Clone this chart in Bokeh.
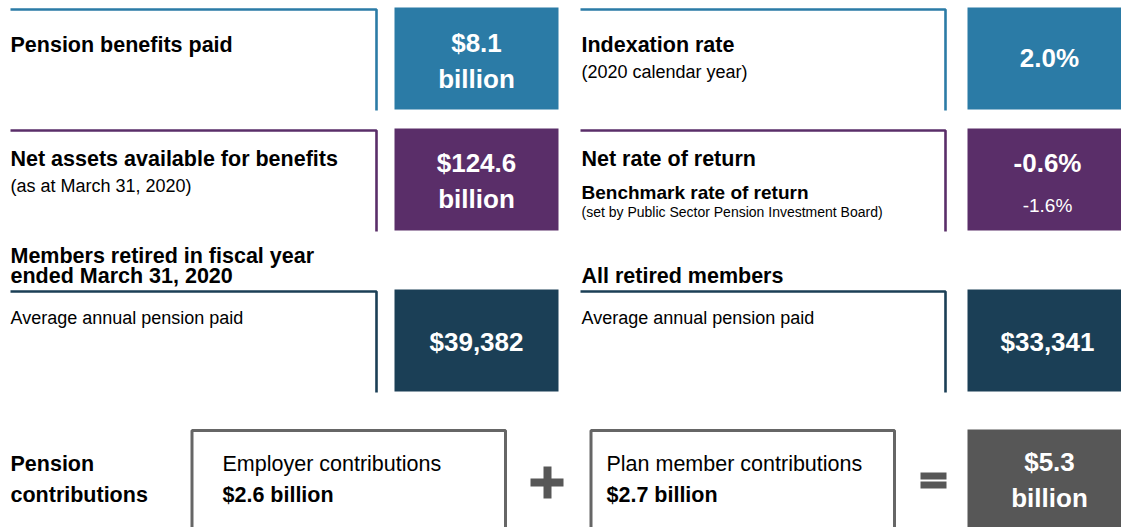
from bokeh.plotting import figure
from bokeh.models import Range1d
from bokeh.core.properties import value
from bokeh.embed import file_html
from bokeh.resources import INLINE

# ---------------- data ----------------
benefits_paid_bn = 8.1
indexation_rate_pct = 2.0
net_assets_bn = 124.6
net_return_pct = -0.6
benchmark_return_pct = -1.6
avg_pension_new_retirees = 39382
avg_pension_all_retirees = 33341
employer_contrib_bn = 2.6
member_contrib_bn = 2.7
total_contrib_bn = 5.3

panel_titles = ["Pension benefits paid", "Indexation rate",
                "Net assets available for benefits", "Net rate of return"]
panel_notes = ["", "(2020 calendar year)", "(as at March 31, 2020)", ""]
benchmark_title = "Benchmark rate of return"
benchmark_note = "(set by Public Sector Pension Investment Board)"
retired_titles = ["Members retired in fiscal year\nended March 31, 2020", "All retired members"]
retired_note = "Average annual pension paid"
contrib_title = "Pension\ncontributions"
contrib_labels = ["Employer contributions", "Plan member contributions"]

# ---------------- style ----------------
FONT = "Liberation Sans"
BLUE = "#2b7ba6"
PURPLE = "#5a2e69"
TEAL = "#1b3f56"
GRAY = "#575757"
FRAME_GRAY = "#666666"
W, H = 1121, 527

p = figure(width=W, height=H, x_range=Range1d(0, W), y_range=Range1d(H, 0),
           output_backend="svg", toolbar_location=None, min_border=0,
           x_axis_location=None, y_axis_location=None)
p.grid.visible = False
p.outline_line_color = None
p.background_fill_color = "white"
p.border_fill_color = "white"

# layout constants: text x, frame right, box left, box right, box centre
COLS = [(10, 376, 394, 558, 476), (580, 945, 967, 1125, 1046)]
ROWS = [(7, 109), (128, 230), (289, 391)]


def txt(x, y, s, size, bold=False, color="black", align="left"):
    p.text(x=[x], y=[y], text=[s], text_font=value(FONT), text_font_size=f"{size}px",
           text_font_style="bold" if bold else "normal", text_color=color,
           text_align=align, text_baseline="middle")


def frame(col, row, color):
    tx, fr, bl, br, bc = COLS[col]
    top, bot = ROWS[row]
    p.line(x=[tx, fr, fr], y=[top + 2, top + 2, bot + 1], line_color=color, line_width=2.6)


def box(col, row, color):
    tx, fr, bl, br, bc = COLS[col]
    top, bot = ROWS[row]
    p.quad(left=[bl], right=[br], top=[top], bottom=[bot], fill_color=color, line_color=None)


TS = 21.5   # title size
NS = 18     # note size
VS = 26     # value size

# ---- row 1 ----
frame(0, 0, BLUE); box(0, 0, BLUE)
frame(1, 0, BLUE); box(1, 0, BLUE)
txt(10, 44, panel_titles[0], TS, bold=True)
txt(476, 42, f"${benefits_paid_bn}", VS, bold=True, color="white", align="center")
txt(476, 78, "billion", VS, bold=True, color="white", align="center")
txt(581, 44, panel_titles[1], TS, bold=True)
txt(581, 71, panel_notes[1], NS)
txt(1049, 57, f"{indexation_rate_pct:.1f}%", VS, bold=True, color="white", align="center")

# ---- row 2 ----
frame(0, 1, PURPLE); box(0, 1, PURPLE)
frame(1, 1, PURPLE); box(1, 1, PURPLE)
txt(10, 158, panel_titles[2], TS, bold=True)
txt(10, 185, panel_notes[2], NS)
txt(476, 162, f"${net_assets_bn}", VS, bold=True, color="white", align="center")
txt(476, 198, "billion", VS, bold=True, color="white", align="center")
txt(581, 158, panel_titles[3], TS, bold=True)
txt(581, 192, benchmark_title, 19, bold=True)
txt(581, 211, benchmark_note, 14)
txt(1047, 162, f"{net_return_pct:.1f}%", VS, bold=True, color="white", align="center")
txt(1047, 205, f"{benchmark_return_pct:.1f}%", 19, color="white", align="center")

# ---- row 3 ----
frame(0, 2, TEAL); box(0, 2, TEAL)
frame(1, 2, TEAL); box(1, 2, TEAL)
for i, line in enumerate(retired_titles[0].split("\n")):
    txt(10, 255 + 20 * i, line, TS, bold=True)
txt(581, 275, retired_titles[1], TS, bold=True)
txt(10, 317, retired_note, NS)
txt(581, 317, retired_note, NS)
txt(476, 341, f"${avg_pension_new_retirees:,}", VS, bold=True, color="white", align="center")
txt(1047, 341, f"${avg_pension_all_retirees:,}", VS, bold=True, color="white", align="center")

# ---- row 4 ----
for i, line in enumerate(contrib_title.split("\n")):
    txt(10, 463 + 31 * i, line, TS, bold=True)
p.quad(left=[191.5, 590.5], right=[505, 894], top=[430, 430], bottom=[545, 545],
       fill_color=None, line_color=FRAME_GRAY, line_width=3)
txt(222, 463, contrib_labels[0], TS)
txt(222, 494, f"${employer_contrib_bn} billion", TS, bold=True)
txt(606, 463, contrib_labels[1], TS)
txt(606, 494, f"${member_contrib_bn} billion", TS, bold=True)
# operator symbols (+ and =)
p.quad(left=[530, 543], right=[563, 551], top=[478, 466], bottom=[486, 498],
       fill_color=GRAY, line_color=None)
p.quad(left=[920, 920], right=[946, 946], top=[472, 481], bottom=[479, 488],
       fill_color=GRAY, line_color=None)
p.quad(left=[967], right=[1125], top=[429], bottom=[545], fill_color=GRAY, line_color=None)
txt(1049, 461, f"${total_contrib_bn}", VS, bold=True, color="white", align="center")
txt(1049, 497, "billion", VS, bold=True, color="white", align="center")

open("out.html", "w").write(file_html(p, INLINE))
